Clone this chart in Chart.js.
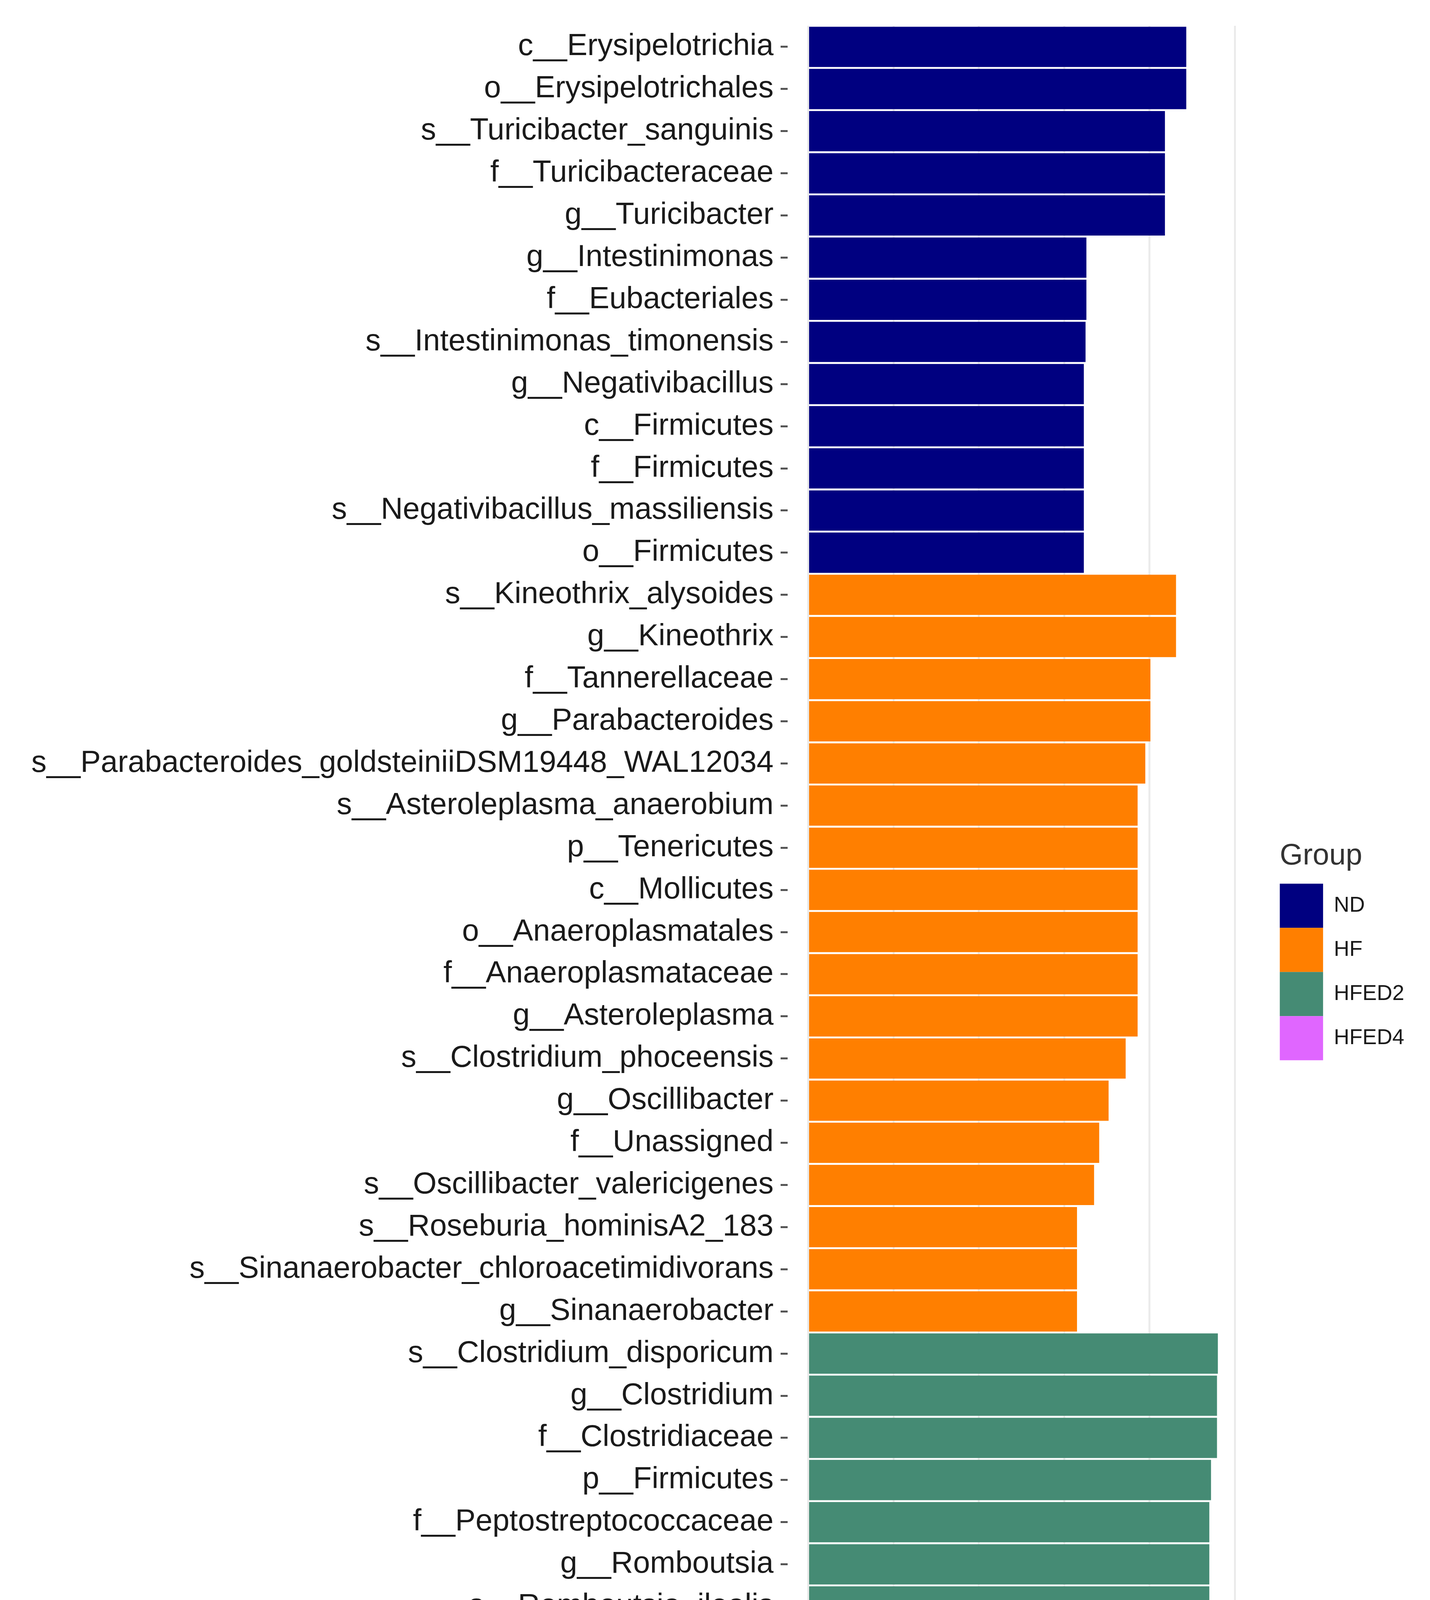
<!DOCTYPE html>
<html>
<head>
<meta charset="utf-8">
<script src="https://cdn.jsdelivr.net/npm/chart.js@4.4.1/dist/chart.umd.min.js"></script>
<style>
  html, body { margin: 0; padding: 0; background: #ffffff; }
  #wrap { width: 3662px; height: 5063px; }
</style>
</head>
<body>
<div id="wrap"><canvas id="ldaChart" width="3662" height="5063"></canvas></div>
<script>
// groups and their colours
const groupNames = ['ND', 'HF', 'HFED2', 'HFED4'];
const groupColors = ['#000080', '#FF7F00', '#458B74', '#E066FF'];

// ND
const ndLabels = ['c__Erysipelotrichia', 'o__Erysipelotrichales', 's__Turicibacter_sanguinis', 'f__Turicibacteraceae',
    'g__Turicibacter', 'g__Intestinimonas', 'f__Eubacteriales', 's__Intestinimonas_timonensis', 'g__Negativibacillus',
    'c__Firmicutes', 'f__Firmicutes', 's__Negativibacillus_massiliensis', 'o__Firmicutes'];
const ndScores = [4.43, 4.43, 4.18, 4.18, 4.18, 3.26, 3.26, 3.25, 3.23, 3.23, 3.23, 3.23, 3.23];

// HF
const hfLabels = ['s__Kineothrix_alysoides', 'g__Kineothrix', 'f__Tannerellaceae', 'g__Parabacteroides',
    's__Parabacteroides_goldsteiniiDSM19448_WAL12034', 's__Asteroleplasma_anaerobium', 'p__Tenericutes', 'c__Mollicutes',
    'o__Anaeroplasmatales', 'f__Anaeroplasmataceae', 'g__Asteroleplasma', 's__Clostridium_phoceensis', 'g__Oscillibacter',
    'f__Unassigned', 's__Oscillibacter_valericigenes', 's__Roseburia_hominisA2_183',
    's__Sinanaerobacter_chloroacetimidivorans', 'g__Sinanaerobacter'];
const hfScores = [4.31, 4.31, 4.01, 4.01, 3.95, 3.86, 3.86, 3.86, 3.86, 3.86, 3.86, 3.72, 3.52, 3.41, 3.35, 3.15, 3.15, 3.15];

// HFED2
const hfed2Labels = ['s__Clostridium_disporicum', 'g__Clostridium', 'f__Clostridiaceae', 'p__Firmicutes',
    'f__Peptostreptococcaceae', 'g__Romboutsia', 's__Romboutsia_ilealis', 's__Alistipes_senegalensisJC50',
    's__Clostridium_saudiense'];
const hfed2Scores = [4.80, 4.79, 4.79, 4.72, 4.70, 4.70, 4.70, 3.86, 3.41];

// HFED4
const hfed4Labels = ['s__Anaerobacterium_chartisolvens', 'g__Anaerobacterium', 'g__Faecalicatena', 's__Faecalicatena_contorta'];
const hfed4Scores = [3.83, 3.83, 3.41, 3.41];

// x axis
const xTicks = [0, 1, 2, 3, 4, 5];
const xMin = -0.24;
const xMax = 5.04;

const groupLabels = [ndLabels, hfLabels, hfed2Labels, hfed4Labels];
const groupScores = [ndScores, hfScores, hfed2Scores, hfed4Scores];
const allLabels = [].concat(...groupLabels);

const datasets = groupNames.map(function (name, g) {
    return {
        label: name,
        data: groupLabels[g].map(function (lab, i) { return { x: groupScores[g][i], y: lab }; }),
        backgroundColor: groupColors[g],
        borderWidth: 0,
        barPercentage: 0.955,
        categoryPercentage: 1.0,
        grouped: false
    };
});

const fontFamily = '"Liberation Sans", Arial, sans-serif';

const ctx = document.getElementById('ldaChart').getContext('2d');
const ldaChart = new Chart(ctx, {
    type: 'bar',
    data: {
        labels: allLabels,
        datasets: datasets
    },
    options: {
        indexAxis: 'y',
        responsive: false,
        devicePixelRatio: 1,
        animation: false,
        layout: {
            padding: { top: 66, right: 56, bottom: 0, left: 0 }
        },
        plugins: {
            tooltip: { enabled: false },
            legend: {
                position: 'right',
                align: 'start',
                labels: {
                    boxWidth: 111,
                    boxHeight: 113,
                    padding: 0,
                    color: '#1a1a1a',
                    font: { family: fontFamily, size: 55 }
                },
                title: {
                    display: true,
                    text: 'Group',
                    position: 'start',
                    color: '#333333',
                    font: { family: fontFamily, size: 76, lineHeight: 1.2 },
                    padding: { top: 2088, bottom: 17 }
                }
            }
        },
        scales: {
            x: {
                type: 'linear',
                min: xMin,
                max: xMax,
                afterBuildTicks: function (axis) {
                    axis.ticks = xTicks.map(function (v) { return { value: v }; });
                },
                afterFit: function (axis) { axis.height = 249; },
                grid: {
                    color: '#ebebeb',
                    lineWidth: 5,
                    drawTicks: true,
                    tickLength: 20,
                    tickColor: '#4d4d4d',
                    tickWidth: 5
                },
                border: { display: true, color: '#a3a3a3', width: 6 },
                ticks: {
                    color: '#4d4d4d',
                    padding: 4,
                    font: { family: fontFamily, size: 64 }
                },
                title: {
                    display: true,
                    text: 'LDA score',
                    color: '#000000',
                    font: { family: fontFamily, size: 112, lineHeight: 1.2 },
                    padding: { top: 0, bottom: 30 }
                }
            },
            y: {
                type: 'category',
                offset: true,
                afterFit: function (axis) { axis.width = 2017; },
                grid: {
                    offset: false,
                    drawOnChartArea: false,
                    drawTicks: true,
                    tickLength: 18,
                    tickColor: '#555555',
                    tickWidth: 5
                },
                border: { display: false },
                ticks: {
                    autoSkip: false,
                    color: '#1a1a1a',
                    padding: 18,
                    font: { family: fontFamily, size: 78 }
                }
            },
            // empty space between the panel and the legend
            gap: {
                type: 'linear',
                position: 'right',
                display: true,
                afterFit: function (axis) { axis.width = 106; },
                grid: { display: false },
                border: { display: false },
                ticks: { display: false }
            }
        }
    }
});
</script>
</body>
</html>
